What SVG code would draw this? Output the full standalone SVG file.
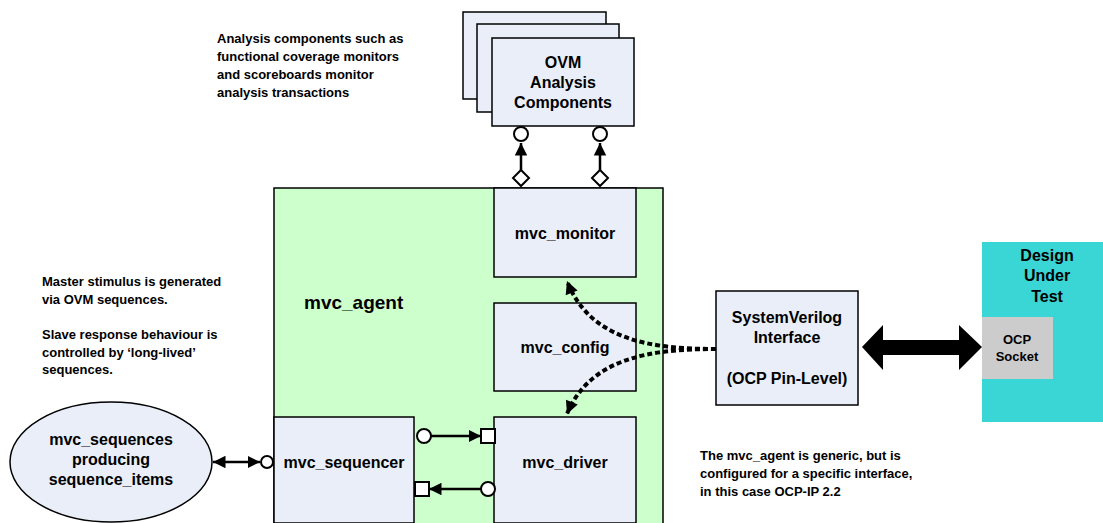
<svg xmlns="http://www.w3.org/2000/svg" width="1103" height="523" viewBox="0 0 1103 523">
<style>
.box{fill:#e9eef8;stroke:#000;stroke-width:1.5}
.t{font-family:"Liberation Sans",Arial,sans-serif;font-weight:bold;fill:#000}
.n{font-size:16px;text-anchor:middle}
.s{font-size:13px}
.ln{stroke:#000;stroke-width:2.5;fill:none}
.dash{stroke:#000;stroke-width:4;fill:none;stroke-dasharray:5 3}
.port{fill:#fff;stroke:#000;stroke-width:2}
</style>
<defs>
<marker id="ah" viewBox="0 0 10 10" refX="10" refY="5" markerWidth="5" markerHeight="5" orient="auto-start-reverse" markerUnits="strokeWidth"><path d="M0,0 L10,5 L0,10 z" fill="#000"/></marker>
<marker id="ah2" viewBox="0 0 10 10" refX="10" refY="5" markerWidth="3.5" markerHeight="3.2" orient="auto" markerUnits="strokeWidth"><path d="M0,0 L10,5 L0,10 z" fill="#000"/></marker>
</defs>
<rect width="1103" height="523" fill="#fff"/>

<g id="agent">
<rect x="274" y="188" width="389" height="345" fill="#ccffcc" stroke="#000" stroke-width="1.5"/>
<text class="t" x="304" y="309" font-size="19">mvc_agent</text>
</g>

<g id="ovm_analysis">
<rect class="box" x="463" y="12" width="143" height="87"/>
<rect class="box" x="477" y="24" width="142" height="88"/>
<rect class="box" x="492" y="38" width="142" height="88"/>
<text class="t n" x="563" y="68">OVM</text>
<text class="t n" x="563" y="88">Analysis</text>
<text class="t n" x="563" y="108">Components</text>
</g>

<g id="mvc_monitor">
<rect class="box" x="494" y="188" width="142" height="89"/>
<text class="t n" x="565" y="239">mvc_monitor</text>
</g>
<g id="mvc_config">
<rect class="box" x="494" y="303" width="142" height="88"/>
<text class="t n" x="565" y="353">mvc_config</text>
</g>
<g id="mvc_driver">
<rect class="box" x="494" y="417" width="142" height="106"/>
<text class="t n" x="565" y="468">mvc_driver</text>
</g>
<g id="mvc_sequencer">
<rect class="box" x="274" y="417" width="140" height="106"/>
<text class="t n" x="344" y="468">mvc_sequencer</text>
</g>

<g id="sv_interface">
<rect class="box" x="716" y="291" width="142" height="114"/>
<text class="t n" x="787" y="323">SystemVerilog</text>
<text class="t n" x="787" y="343">Interface</text>
<text class="t n" x="787" y="384">(OCP Pin-Level)</text>
</g>

<g id="dut">
<rect x="982" y="242" width="121" height="180" fill="#3ad5d5"/>
<text class="t n" x="1047" y="261">Design</text>
<text class="t n" x="1047" y="281">Under</text>
<text class="t n" x="1047" y="302">Test</text>
<rect x="982" y="317" width="71" height="62" fill="#cccccc"/>
<text class="t" x="1017" y="344" font-size="13" text-anchor="middle">OCP</text>
<text class="t" x="1017" y="361" font-size="13" text-anchor="middle">Socket</text>
</g>

<g id="sequences">
<ellipse cx="111" cy="462" rx="101" ry="60" fill="#e9eef8" stroke="#000" stroke-width="1.5"/>
<text class="t n" x="111" y="445">mvc_sequences</text>
<text class="t n" x="111" y="465">producing</text>
<text class="t n" x="111" y="485">sequence_items</text>
</g>

<g id="notes">
<text class="t s" x="217" y="43">Analysis components such as</text>
<text class="t s" x="217" y="61">functional coverage monitors</text>
<text class="t s" x="217" y="79">and scoreboards monitor</text>
<text class="t s" x="217" y="97">analysis transactions</text>
<text class="t s" x="42" y="286">Master stimulus is generated</text>
<text class="t s" x="42" y="304">via OVM sequences.</text>
<text class="t s" x="42" y="339">Slave response behaviour is</text>
<text class="t s" x="42" y="357">controlled by ‘long-lived’</text>
<text class="t s" x="42" y="374">sequences.</text>
<text class="t s" x="700" y="460">The mvc_agent is generic, but is</text>
<text class="t s" x="700" y="478">configured for a specific interface,</text>
<text class="t s" x="700" y="496">in this case OCP-IP 2.2</text>
</g>

<g id="connectors">
<line class="ln" x1="521" y1="170" x2="521" y2="143" marker-end="url(#ah)"/>
<circle class="port" cx="521" cy="134" r="7"/>
<path class="port" d="M521,170 L529,178 L521,186 L513,178 Z"/>
<line class="ln" x1="600" y1="170" x2="600" y2="143" marker-end="url(#ah)"/>
<circle class="port" cx="600" cy="134" r="7"/>
<path class="port" d="M600,170 L608,178 L600,186 L592,178 Z"/>

<line class="ln" x1="431" y1="436" x2="481" y2="436" marker-end="url(#ah)"/>
<circle class="port" cx="424" cy="436" r="7"/>
<rect class="port" x="481" y="429" width="14" height="14"/>
<line class="ln" x1="481" y1="489" x2="429" y2="489" marker-end="url(#ah)"/>
<circle class="port" cx="488" cy="489" r="7"/>
<rect class="port" x="415" y="482" width="14" height="14"/>

<line class="ln" x1="213" y1="462" x2="260" y2="462" marker-start="url(#ah)" marker-end="url(#ah)"/>
<circle class="port" cx="267" cy="462" r="6"/>

<path class="dash" d="M716,349 C650,349 590,340 567,281" marker-end="url(#ah2)"/>
<path class="dash" d="M716,349 C650,349 590,358 567,414" marker-end="url(#ah2)"/>

<path d="M862,347 L883,325 L883,340 L959,340 L959,325 L982,347 L959,370 L959,355 L883,355 L883,370 Z" fill="#000"/>
</g>
</svg>
